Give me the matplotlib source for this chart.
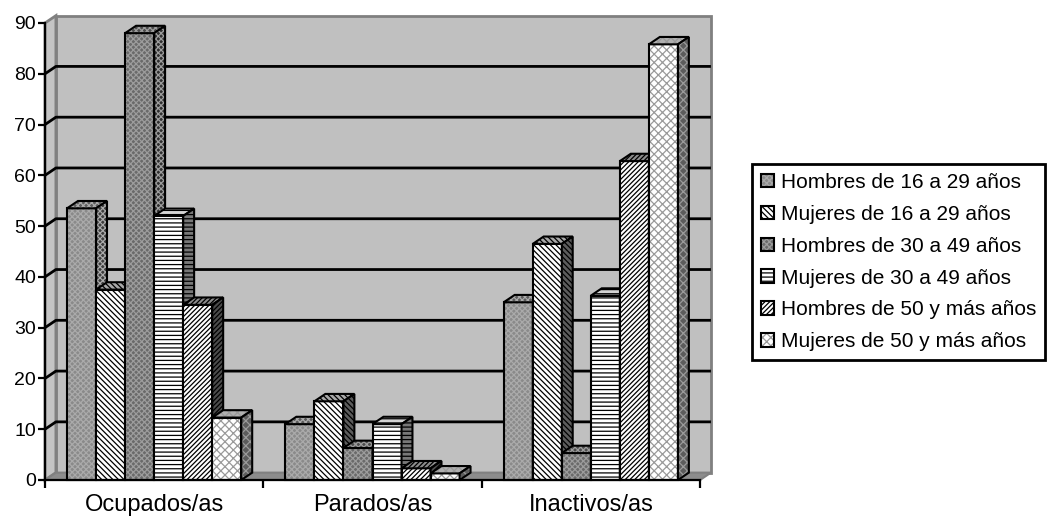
import matplotlib.pyplot as plt
import matplotlib as mpl
from matplotlib.patches import Polygon, Rectangle
from matplotlib.legend_handler import HandlerTuple
import numpy as np

mpl.rcParams['font.family'] = ['Liberation Sans', 'DejaVu Sans']
mpl.rcParams['hatch.linewidth'] = 0.9

# datos
categorias = ['Ocupados/as', 'Parados/as', 'Inactivos/as']
series = ['Hombres de 16 a 29 años', 'Mujeres de 16 a 29 años',
          'Hombres de 30 a 49 años', 'Mujeres de 30 a 49 años',
          'Hombres de 50 y más años', 'Mujeres de 50 y más años']
hombres_16_29 = [53.5, 11.0, 35.0]
mujeres_16_29 = [37.5, 15.5, 46.5]
hombres_30_49 = [88.0, 6.3, 5.3]
mujeres_30_49 = [52.0, 11.0, 36.3]
hombres_50 = [34.5, 2.3, 62.8]
mujeres_50 = [12.3, 1.3, 85.8]
valores = [hombres_16_29, mujeres_16_29, hombres_30_49,
           mujeres_30_49, hombres_50, mujeres_50]
yticks = [0, 10, 20, 30, 40, 50, 60, 70, 80, 90]

# (frente, lado, arriba, trama, color trama)
estilos = [
    ('#8a8a8a', '#3c3c3c', '#5c5c5c', 'xxxxxx', '#aaaaaa'),
    ('#ffffff', '#5c5c5c', '#a8a8a8', '\\' * 6, '#000000'),
    ('#6a6a6a', '#303030', '#4c4c4c', 'xxxxxx', '#9c9c9c'),
    ('#ffffff', '#787878', '#d4d4d4', '----', '#000000'),
    ('#ffffff', '#4c4c4c', '#8c8c8c', '/' * 7, '#000000'),
    ('#ffffff', '#5c5c5c', '#b0b0b0', 'xxxx', '#9a9a9a'),
]

fig = plt.figure(figsize=(10.48, 5.17), dpi=100)
ax = fig.add_axes([45 / 1048, 37 / 517, 655 / 1048, 457 / 517])
ax.set_xlim(-0.5, 2.5)
ax.set_ylim(0, 90)
ax.set_facecolor('none')

dx = 0.05   # profundidad 3D en x
dy = 1.45   # profundidad 3D en y
w = 0.133   # ancho de barra


def cara(verts, fc, hatch, hc, z):
    ax.add_patch(Polygon(verts, closed=True, facecolor=fc, edgecolor=hc, hatch=hatch,
                         lw=0, zorder=z, clip_on=False))
    ax.add_patch(Polygon(verts, closed=True, fill=False, edgecolor='black',
                         lw=1.5, zorder=z, clip_on=False, joinstyle='miter'))


# paredes y suelo
ax.add_patch(Rectangle((-0.5 + dx, dy), 3, 90, facecolor='#c0c0c0', edgecolor='#808080',
                       lw=2, zorder=0, clip_on=False))
ax.add_patch(Polygon([(-0.5, 0), (-0.5 + dx, dy), (-0.5 + dx, 90 + dy), (-0.5, 90)],
                     facecolor='#c4c4c4', edgecolor='#808080', lw=2, zorder=0.1, clip_on=False))
ax.add_patch(Polygon([(-0.5, 0), (2.5, 0), (2.5 + dx, dy), (-0.5 + dx, dy)],
                     facecolor='#8c8c8c', edgecolor='#808080', lw=1.5, zorder=0.2, clip_on=False))
for t in yticks[1:-1]:
    ax.plot([-0.5, -0.5 + dx, 2.5 + dx], [t, t + dy, t + dy], color='black', lw=2,
            zorder=0.5, clip_on=False, solid_capstyle='butt')

# barras
for i in range(len(categorias)):
    for j, vals in enumerate(valores):
        h = vals[i]
        fc, sc, tc, hatch, hc = estilos[j]
        x0 = i - 3 * w + j * w
        z = 2 + (i * 6 + j) * 0.01
        cara([(x0, 0), (x0 + w, 0), (x0 + w, h), (x0, h)], fc, hatch, hc, z)
        cara([(x0, h), (x0 + w, h), (x0 + w + dx, h + dy), (x0 + dx, h + dy)], tc, hatch, hc, z)
        cara([(x0 + w, 0), (x0 + w + dx, dy), (x0 + w + dx, h + dy), (x0 + w, h)], sc, hatch, hc, z)

for s in ['top', 'right']:
    ax.spines[s].set_visible(False)
for s in ['left', 'bottom']:
    ax.spines[s].set_linewidth(1.6)
    ax.spines[s].set_zorder(5)

ax.set_yticks(yticks)
ax.tick_params(axis='y', length=5, width=1.6, pad=1.5, labelsize=14)
ax.set_xticks([-0.5, 0.5, 1.5, 2.5])
ax.set_xticklabels([])
ax.set_xticks([0, 1, 2], minor=True)
ax.set_xticklabels(categorias, minor=True, fontsize=17)
ax.tick_params(axis='x', which='major', length=6, width=1.6)
ax.tick_params(axis='x', which='minor', length=0, pad=10)

# leyenda
handles = []
for fc, sc, tc, hatch, hc in estilos:
    handles.append((Rectangle((0, 0), 1, 1, facecolor=fc, edgecolor=hc, hatch=hatch, lw=0),
                    Rectangle((0, 0), 1, 1, fill=False, edgecolor='black', lw=1.5)))
leg = fig.legend(handles, series, handler_map={tuple: HandlerTuple(ndivide=1)},
                 loc='upper left', bbox_to_anchor=(752 / 1048, 1 - 164 / 517),
                 bbox_transform=fig.transFigure, borderaxespad=0, fontsize=15,
                 handlelength=0.62, handleheight=0.62, handletextpad=0.35,
                 borderpad=0.42, labelspacing=0.62, fancybox=False, framealpha=1)
leg.get_frame().set_edgecolor('black')
leg.get_frame().set_linewidth(2)

fig.savefig('out.png', dpi=100)
